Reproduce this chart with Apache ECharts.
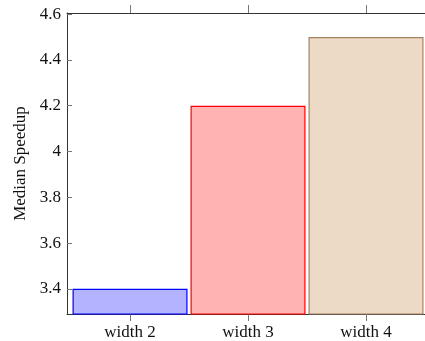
<!DOCTYPE html>
<html>
<head>
<meta charset="utf-8">
<script src="https://cdn.jsdelivr.net/npm/echarts@6/dist/echarts.min.js"></script>
<style>
  html, body { margin: 0; padding: 0; background: #fff; }
  #main { width: 425px; height: 341px; }
</style>
</head>
<body>
<div id="main"></div>
<script>
// 数据
var categories = ["width 2", "width 3", "width 4"];
var positions = [2, 3, 4];
var speedups = [3.4, 4.2, 4.5];
var yTicks = [3.4, 3.6, 3.8, 4.0, 4.2, 4.4, 4.6];
var fills = ["#b3b3ff", "#ffb3b3", "#ecd9c6"];
var borders = ["#0000ff", "#ff0000", "#a5825e"];

var font = "Liberation Serif";
var myChart = echarts.init(document.getElementById("main"));

var barData = positions.map(function (p, i) {
    return {
        value: [p, speedups[i]],
        itemStyle: { color: fills[i], borderColor: borders[i], borderWidth: 1.2 }
    };
});

var option = {
    animation: false,
    grid: { left: 67, top: 13, bottom: 27, right: 0 },
    xAxis: [{
        type: "value",
        min: 1.466,
        max: 4.5,
        position: "bottom",
        splitLine: { show: false },
        axisLine: { show: true, lineStyle: { color: "#333", width: 1 } },
        axisTick: { show: true, inside: false, length: 7, customValues: positions, lineStyle: { color: "#777" } },
        axisLabel: {
            customValues: positions,
            margin: 10,
            color: "#111",
            fontFamily: font,
            fontSize: 17,
            formatter: function (v) {
                var i = positions.indexOf(Math.round(v));
                return i >= 0 ? categories[i] : "";
            }
        }
    }, {
        type: "value",
        min: 1.466,
        max: 4.5,
        position: "top",
        splitLine: { show: false },
        axisLine: { show: true, lineStyle: { color: "#333", width: 1 } },
        axisTick: { show: true, inside: false, length: 8, customValues: positions, lineStyle: { color: "#777" } },
        axisLabel: { show: false }
    }],
    yAxis: {
        type: "value",
        min: 3.29,
        max: 4.605,
        name: "Median Speedup",
        nameLocation: "middle",
        nameGap: 38,
        nameTextStyle: { fontFamily: font, fontSize: 17, color: "#111" },
        splitLine: { show: false },
        axisLine: { show: true, lineStyle: { color: "#333", width: 1 } },
        axisTick: { show: true, inside: true, length: 5, customValues: yTicks, lineStyle: { color: "#777" } },
        axisLabel: {
            customValues: yTicks,
            margin: 6,
            color: "#111",
            fontFamily: font,
            fontSize: 17,
            formatter: function (v) {
                return (Math.round(v * 10) / 10).toString();
            }
        }
    },
    series: [{
        type: "bar",
        xAxisIndex: 0,
        barWidth: 115,
        data: barData
    }]
};

option && myChart.setOption(option);
</script>
</body>
</html>
